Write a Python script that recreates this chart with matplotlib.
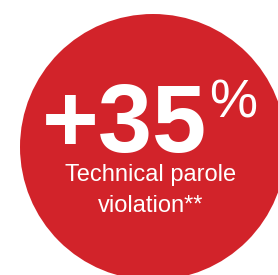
import matplotlib.pyplot as plt
from matplotlib.patches import Circle

# values
change = "+35"
unit = "%"
label_lines = ["Technical parole", "violation**"]

red = "#d2232a"

fig = plt.figure(figsize=(2.78, 2.75), dpi=100)
ax = fig.add_axes([0, 0, 1, 1])
ax.set_xlim(0, 278)
ax.set_ylim(275, 0)
ax.set_aspect("auto")
ax.axis("off")

ax.add_patch(Circle((153, 147), 133, color=red, lw=0))

ax.text(207, 152, change, ha="right", va="baseline", color="white",
        fontsize=70, fontweight="bold", family="Liberation Sans")
ax.text(209, 117, unit, ha="left", va="baseline", color="white",
        fontsize=39, family="Liberation Sans")

for i, line in enumerate(label_lines):
    ax.text(151, 181 + 31 * i, line, ha="center", va="baseline", color="white",
            fontsize=17, family="Liberation Sans")

fig.savefig("out.png", dpi=100)
